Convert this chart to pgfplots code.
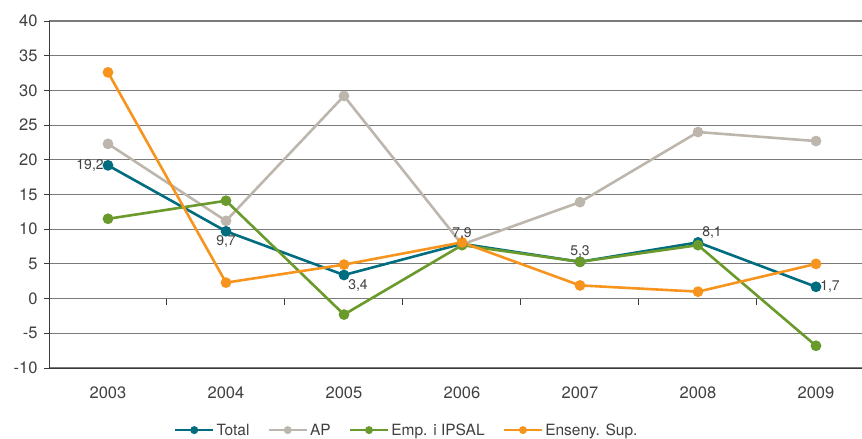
\documentclass[border=0pt]{standalone}
\usepackage{fontspec}
\setmainfont{TeX Gyre Heros}
\usepackage{pgfplots}
\usepackage{pgfplotstable}
\pgfplotsset{compat=1.18}
\definecolor{ctotal}{HTML}{006C80}
\definecolor{cap}{HTML}{BDB6AD}
\definecolor{cemp}{HTML}{6A9A2B}
\definecolor{cens}{HTML}{F7941E}
\definecolor{ctext}{HTML}{404040}
\definecolor{cgrid}{HTML}{7A7A7A}
\definecolor{caxis}{HTML}{3A3A3A}

\pgfplotstableread{
x y
0 19.2
1 9.7
2 3.4
3 7.9
4 5.3
5 8.1
6 1.7
}\totaltab
\pgfplotstableread{
x y
0 22.3
1 11.2
2 29.2
3 7.8
4 13.9
5 24.0
6 22.7
}\aptab
\pgfplotstableread{
x y
0 11.5
1 14.1
2 -2.3
3 7.7
4 5.3
5 7.7
6 -6.8
}\emptab
\pgfplotstableread{
x y
0 32.6
1 2.3
2 4.9
3 8.1
4 1.9
5 1.0
6 5.0
}\enstab

\pgfplotsset{lbl/.style={forget plot, draw=none, mark=none,
  point meta=explicit symbolic, nodes near coords,
  every node near coord/.append style={anchor=#1, font=\fontsize{14bp}{16bp}\selectfont, text=ctext, inner sep=3bp}}}

\begin{document}
\begin{tikzpicture}
\begin{axis}[
  scale only axis,
  width=813bp, height=347bp,
  xmin=-0.5, xmax=6.39,
  ymin=-10, ymax=40,
  ytick={-10,-5,...,40},
  xtick={0,...,6},
  xticklabels={2003,2004,2005,2006,2007,2008,2009},
  axis lines*=left,
  axis line style={draw=caxis, line width=1bp},
  ymajorgrids,
  grid style={draw=cgrid, line width=1.1bp},
  major y tick style={draw=caxis, line width=1bp},
  major x tick style={draw=none},
  tick align=outside,
  major tick length=5bp,
  /pgf/number format/assume math mode=true,
  ticklabel style={font=\fontsize{16.5bp}{19bp}\selectfont, text=ctext},
  xticklabel style={yshift=-10bp},
  yticklabel style={xshift=-3bp},
  clip=false,
  legend columns=-1,
  legend style={
    draw=none, fill=none,
    at={(0.44,-0.179)}, anchor=center,
    font=\fontsize{15.5bp}{18bp}\selectfont, text=ctext,
    /tikz/every even column/.append style={column sep=16bp},
  },
  legend image code/.code={\draw[mark repeat=2,mark phase=2] plot coordinates {(0bp,0bp) (19bp,0bp) (38bp,0bp)};},
  legend image post style={mark size=2.6bp},
  every axis plot/.append style={line width=2.6bp, mark=*, mark size=4bp},
]
\addplot[color=ctotal, mark options={fill=ctotal}] table[x=x, y=y] {\totaltab};
\addlegendentry{Total}
\addplot[color=cap, mark options={fill=cap}] table[x=x,y=y] {\aptab};
\addlegendentry{AP}
\addplot[color=cemp, mark options={fill=cemp}] table[x=x,y=y] {\emptab};
\addlegendentry{Emp. i IPSAL}
\addplot[color=cens, mark options={fill=cens}] table[x=x,y=y] {\enstab};
\addlegendentry{Enseny. Sup.}
\addplot[ctotal, lbl=east] coordinates {(0,19.2) [19,2]};
\addplot[ctotal, lbl=north] coordinates {(1,9.7) [9,7]};
\addplot[ctotal, lbl=north west] coordinates {(2,3.4) [3,4]};
\addplot[ctotal, lbl=south] coordinates {(3,7.9) [7,9] (4,5.3) [5,3]};
\addplot[ctotal, lbl=south west] coordinates {(5,8.1) [8,1]};
\addplot[ctotal, lbl=west] coordinates {(6,1.7) [1,7]};
\pgfplotsinvokeforeach{0.5,1.5,2.5,3.5,4.5,5.5}{
  \draw[caxis, line width=1bp] (axis cs:#1,0) -- ([yshift=-6bp]axis cs:#1,0);
}
\end{axis}
\pgfresetboundingbox
\path ([shift={(-49bp,-71bp)}]current axis.south west) rectangle ([shift={(0bp,21bp)}]current axis.north east);
\end{tikzpicture}
\end{document}
